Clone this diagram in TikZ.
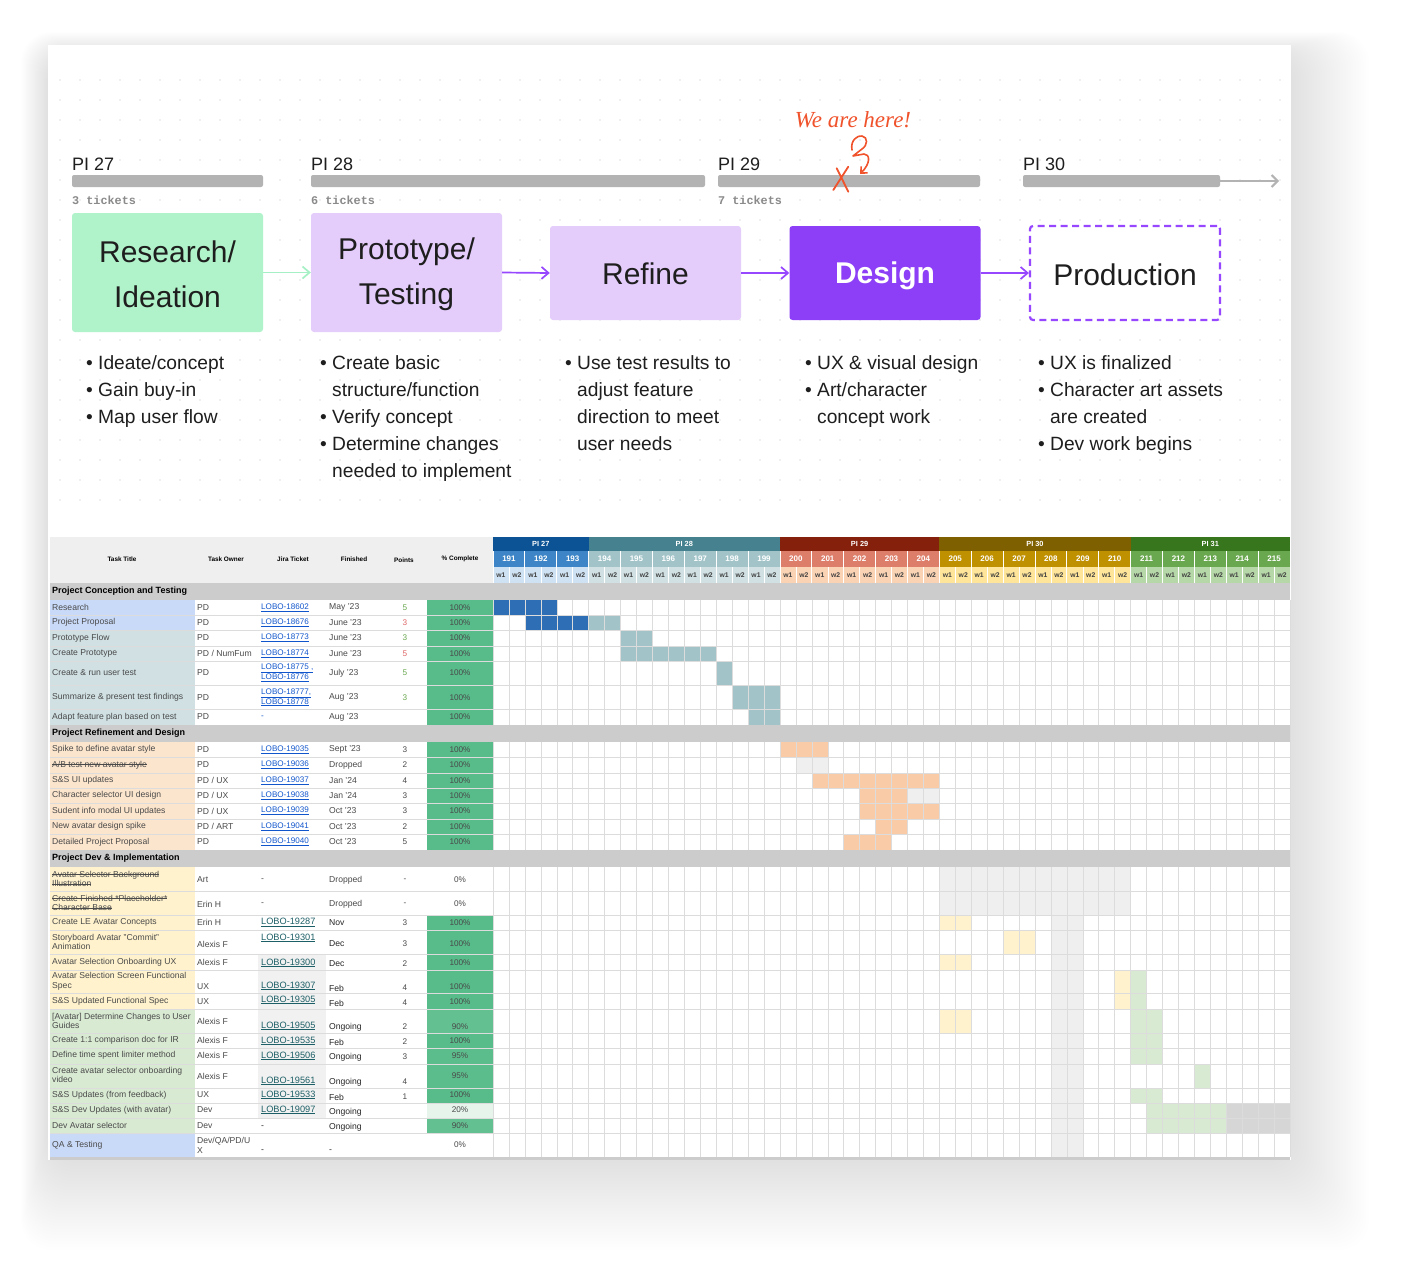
\documentclass[tikz,border=0pt]{standalone}
\usepackage{fontspec}
\setmainfont{Liberation Sans}
\newfontfamily\monofont{Liberation Mono}
\newfontfamily\handfont{Liberation Serif}
\usetikzlibrary{arrows.meta}

\definecolor{dotc}{HTML}{E2E2E2}
\definecolor{barc}{HTML}{B3B3B3}
\definecolor{tixc}{HTML}{8A8A8A}
\definecolor{resc}{HTML}{B0F2C9}
\definecolor{protc}{HTML}{E4CCFB}
\definecolor{desc}{HTML}{8C3FF6}
\definecolor{purp}{HTML}{9747FF}
\definecolor{mint}{HTML}{A6F0C6}
\definecolor{ink}{HTML}{1E1E1E}
\definecolor{hand}{HTML}{F0522B}
\definecolor{hdrg}{HTML}{EFEFEF}
\definecolor{secg}{HTML}{CCCCCC}
\definecolor{gridc}{HTML}{DCDCDC}
\definecolor{txtc}{HTML}{4A4A4A}
\definecolor{linkc}{HTML}{1155CC}
\definecolor{linkd}{HTML}{1D5F66}
\definecolor{ptg}{HTML}{6AA84F}
\definecolor{ptr}{HTML}{E06666}
\definecolor{pctg}{HTML}{57BB8A}
\definecolor{pctn}{HTML}{5CBD8C}
\definecolor{pcte}{HTML}{63C091}
\definecolor{pctl}{HTML}{E6F4EC}
\definecolor{tblue}{HTML}{C9DAF8}
\definecolor{tteal}{HTML}{D0E0E3}
\definecolor{tpeach}{HTML}{FCE5CD}
\definecolor{tyel}{HTML}{FFF2CC}
\definecolor{tgreen}{HTML}{D9EAD3}
\definecolor{gblue}{HTML}{2E6EB5}
\definecolor{gteal}{HTML}{A2C4C9}
\definecolor{gpeach}{HTML}{F9CBA7}
\definecolor{glg}{HTML}{EFEFEF}
\definecolor{gyel}{HTML}{FFF2CC}
\definecolor{ggreen}{HTML}{D9EAD3}
\definecolor{gdg}{HTML}{D6D6D6}
\definecolor{jirag}{HTML}{F1F1F1}
\definecolor{piA}{HTML}{0B5394}
\definecolor{piB}{HTML}{45818E}
\definecolor{piC}{HTML}{85200C}
\definecolor{piD}{HTML}{7F6000}
\definecolor{piE}{HTML}{38761D}
\definecolor{sprA}{HTML}{3D85C6}
\definecolor{sprB}{HTML}{A2C4C9}
\definecolor{sprC}{HTML}{DD7E6B}
\definecolor{sprD}{HTML}{BF9000}
\definecolor{sprE}{HTML}{6AA84F}
\definecolor{wkA}{HTML}{CFE2F3}
\definecolor{wkB}{HTML}{D0E0E3}
\definecolor{wkC}{HTML}{FAD3B4}
\definecolor{wkD}{HTML}{FFE599}
\definecolor{wkE}{HTML}{B6D7A8}

\newcommand\myul[1]{\underline{#1}}
\newcommand\mystrk[1]{\leavevmode\setbox0\hbox{#1}\rlap{\rule[2.5pt]{\wd0}{0.5pt}}\box0}
\newcommand\gb[5]{\fill[#1] ({493+15.94*#2},#4) rectangle ({493+15.94*(#3+1)},#5);}
\newcommand\bulit{\makebox[12pt][l]{•}}
\newcommand\bulcont{\hspace*{12pt}}
\newcommand\trow[7]{%
 \node[tx] (#1t) at (52,#2) {#3};
 \node[tx] (#1o) at (197,#2) {#4};
 \node[lk] (#1j) at (261,#2) {#5};
 \node[tx] (#1f) at (329,#2) {#6};
 \node[cn] (#1p) at (405,#2) {#7};
 \node[cn] (#1c) at (460,#2) {100\%};}

\begin{document}
\begin{tikzpicture}[x=1pt,y=-1pt,
  pil/.style={anchor=base west, inner sep=0, font=\fontsize{18}{20}\selectfont, text=ink},
  barbox/.style={fill=barc, rounded corners=2, inner sep=0, minimum height=12},
  tix/.style={anchor=base west, inner sep=0, font=\monofont\bfseries\fontsize{11.8}{12}\selectfont, text=tixc},
  phase/.style={rounded corners=3, minimum width=191, minimum height=95, inner sep=0},
  phtxt/.style={inner sep=0, align=center, font=\fontsize{30}{45}\selectfont, text=ink},
  flow/.style={-{Straight Barb[length=7,width=12]}, line width=1.7, draw=purp},
  bul/.style={anchor=north west, inner sep=0, align=left, font=\fontsize{19.2}{27}\selectfont, text=ink},
  tx/.style={anchor=west, inner sep=0, align=left, font=\fontsize{8.6}{9.8}\selectfont, text=txtc},
  lk/.style={tx, text=linkc, font=\fontsize{8.1}{9.6}\selectfont},
  lkd/.style={tx, text=linkd, font=\fontsize{9.2}{10}\selectfont},
  fd/.style={tx, text=black!85, font=\fontsize{8.6}{10}\selectfont},
  cn/.style={tx, anchor=center, font=\fontsize{8.2}{9.6}\selectfont},
  hd/.style={anchor=center, inner sep=0, font=\bfseries\fontsize{6.4}{7}\selectfont, text=black},
  sec/.style={anchor=west, inner sep=0, font=\bfseries\fontsize{9}{10}\selectfont, text=black},
  pin/.style={anchor=center, inner sep=0, font=\bfseries\fontsize{7.4}{8}\selectfont, text=white},
  spn/.style={anchor=center, inner sep=0, font=\bfseries\fontsize{8}{9}\selectfont, text=white},
  wkn/.style={anchor=center, inner sep=0, font=\bfseries\fontsize{6.8}{7}\selectfont, text=black!75},
]
\useasboundingbox (0,0) rectangle (1404,1274);
\fill[white] (0,0) rectangle (1404,1274);
% shadow
\foreach \i in {1,...,30}
  \fill[black, opacity=0.0042, rounded corners=30] ({48-0.9*\i},{45-0.7*\i+8}) rectangle ({1291+2.6*\i},{1160+3*\i});
% card
\fill[white] (48,45) rectangle (1291,1160);
% dots
\foreach \x in {60,80,...,1280}
  \foreach \y in {80,100,...,500}
    \fill[dotc] (\x,\y) circle (0.9);

% PI bars and labels
\node[pil] (pl1) at (72,170) {PI 27};
\node[pil] (pl2) at (311,170) {PI 28};
\node[pil] (pl3) at (718,170) {PI 29};
\node[pil] (pl4) at (1023,170) {PI 30};
\node[barbox, minimum width=191] (bar1) at (167.5,181) {};
\node[barbox, minimum width=394] (bar2) at (508,181) {};
\node[barbox, minimum width=262] (bar3) at (849,181) {};
\node[barbox, minimum width=197] (bar4) at (1121.5,181) {};
\coordinate (arrEnd) at (1279,181);
\draw[barc, line width=2, -{Straight Barb[length=6,width=12]}] (bar4.east) -- (arrEnd);
\node[tix] (tk1) at (72,204) {3 tickets};
\node[tix] (tk2) at (311,204) {6 tickets};
\node[tix] (tk3) at (718,204) {7 tickets};

% phase boxes
\node[phase, fill=resc, minimum height=119] (ph1) at (167.5,272.5) {};
\node[phase, fill=protc, minimum height=119] (ph2) at (406.5,272.5) {};
\node[phase, fill=protc, minimum height=94] (ph3) at (645.5,273) {};
\node[phase, fill=desc, minimum height=94] (ph4) at (885,273) {};
\node[phase, fill=white, draw=purp, line width=2.2, dash pattern=on 7 off 4.5, minimum width=190, minimum height=94] (ph5) at (1125,273) {};
\node[phtxt] (ph1x) at ([yshift=-2pt]ph1.center) {Research/\\Ideation};
\node[phtxt] (ph2x) at ([yshift=-2pt]ph2.center) {Prototype/\\Testing};
\node[phtxt] (ph3x) at ([yshift=-1pt]ph3.center) {Refine};
\node[phtxt, text=white, font=\bfseries\fontsize{30}{45}\selectfont] (ph4x) at ([yshift=-3pt]ph4.center) {Design};
\node[phtxt] (ph5x) at ([yshift=-2pt]ph5.center) {Production};
\draw[flow, draw=mint] (ph1.east) -- (ph2.west);
\draw[flow] (ph2.east) -- (ph3.west);
\draw[flow] (ph3.east) -- (ph4.west);
\draw[flow] (ph4.east) -- (ph5.west);

% bullets
\node[bul] (l1) at (86,350) {\strut\bulit Ideate/concept\\\bulit Gain buy-in\\\bulit Map user flow};
\node[bul] (l2) at (320,350) {\strut\bulit Create basic\\\bulcont structure/function\\\bulit Verify concept\\\bulit Determine changes\\\bulcont needed to implement};
\node[bul] (l3) at (565,350) {\strut\bulit Use test results to\\\bulcont adjust feature\\\bulcont direction to meet\\\bulcont user needs};
\node[bul] (l4) at (805,350) {\strut\bulit UX \& visual design\\\bulit Art/character\\\bulcont concept work};
\node[bul] (l5) at (1038,350) {\strut\bulit UX is finalized\\\bulit Character art assets\\\bulcont are created\\\bulit Dev work begins};

% hand annotation
\node[anchor=center, inner sep=0, font=\handfont\itshape\fontsize{23}{25}\selectfont, text=hand] (here) at (853,120) {We are here!};
\draw[hand, line width=1.6, line cap=round, line join=round, -{Straight Barb[length=5,width=9]}]
  (852,150) .. controls (850,140) and (858,135) .. (862,136)
  .. controls (868,137) and (868,145) .. (862,149)
  -- (853,156) -- (864,154)
  .. controls (870,154) and (871,163) .. (860,174);
\draw[hand, line width=1.8, line cap=round] (836.7,168.3) -- (848.3,191.7) (848.3,166.7) -- (833.3,190);

% ================= TABLE =================
% header
\fill[hdrg] (50,537) rectangle (493,583);
\node[hd] (h1) at (122,559) {Task Title};
\node[hd] (h2) at (226,559) {Task Owner};
\node[hd] (h3) at (293,559) {Jira Ticket};
\node[hd] (h4) at (354,559) {Finished};
\node[hd] (h5) at (404,560) {Points};
\node[hd] (h6) at (460,559) {\% Complete};
\foreach \a/\b/\c/\t in {0/6/piA/27,6/18/piB/28,18/28/piC/29,28/40/piD/30,40/50/piE/31}{
  \fill[\c] ({493+15.94*\a},537) rectangle ({493+15.94*\b},551);
  \node[pin] (pi\t) at ({493+15.94*(\a+\b)/2},544) {PI \t};
}
\foreach \a/\b/\sc/\wc in {0/2/sprA/wkA,3/8/sprB/wkB,9/13/sprC/wkC,14/19/sprD/wkD,20/24/sprE/wkE}{
  \foreach \s in {\a,...,\b}{
    \pgfmathtruncatemacro\num{191+\s}
    \fill[\sc] ({493+31.88*\s},551) rectangle ({493+31.88*(\s+1)},567);
    \fill[\wc] ({493+31.88*\s},567) rectangle ({493+31.88*(\s+1)},583);
    \draw[white, line width=0.8] ({493+31.88*\s},551) -- ({493+31.88*\s},583);
    \draw[white, line width=0.5] ({493+31.88*\s+15.94},567) -- ({493+31.88*\s+15.94},583);
    \node[spn] (sp\num) at ({493+31.88*\s+15.94},559) {\num};
    \node[wkn] (wa\num) at ({493+31.88*\s+7.97},575) {w1};
    \node[wkn] (wb\num) at ({493+31.88*\s+23.91},575) {w2};
  }
}

% left column fills
\fill[tblue] (50,600) rectangle (195,630);
\fill[tteal] (50,630) rectangle (195,725);
\fill[tpeach] (50,742) rectangle (195,850);
\fill[tyel] (50,867) rectangle (195,1009);
\fill[tgreen] (50,1009) rectangle (195,1133);
\fill[tblue] (50,1133) rectangle (195,1157);
\fill[jirag] (258,954) rectangle (326,1118);
% percent fills
\fill[pctg] (427,600) rectangle (493,725);
\fill[pctg] (427,742) rectangle (493,850);
\fill[pctg] (427,915) rectangle (493,1009);
\fill[pcte] (427,1009) rectangle (493,1033);
\fill[pctg] (427,1033) rectangle (493,1048);
\fill[pctn] (427,1048) rectangle (493,1088);
\fill[pctg] (427,1088) rectangle (493,1103);
\fill[pctl] (427,1103) rectangle (493,1118);
\fill[pcte] (427,1118) rectangle (493,1133);

% gantt fills
\gb{gblue}{0}{3}{600}{615}
\gb{gblue}{2}{5}{615}{630}
\gb{gteal}{6}{7}{615}{630}
\gb{gteal}{8}{9}{630}{646}
\gb{gteal}{8}{13}{646}{661}
\gb{gteal}{14}{14}{661}{685}
\gb{gteal}{15}{17}{685}{709}
\gb{gteal}{16}{17}{709}{725}
\gb{gpeach}{18}{20}{742}{757}
\gb{glg}{19}{20}{757}{773}
\gb{gpeach}{20}{27}{773}{788}
\gb{gpeach}{23}{25}{788}{803}
\gb{glg}{26}{27}{788}{803}
\gb{gpeach}{23}{27}{803}{819}
\gb{gpeach}{24}{25}{819}{834}
\gb{gpeach}{22}{24}{834}{850}
\gb{glg}{35}{36}{915}{1157}
\gb{glg}{28}{39}{867}{915}
\gb{gyel}{28}{29}{915}{930}
\gb{gyel}{32}{33}{930}{954}
\gb{gyel}{28}{29}{954}{970}
\gb{gyel}{39}{39}{970}{1009}
\gb{ggreen}{40}{40}{970}{1009}
\gb{gyel}{28}{29}{1009}{1033}
\gb{ggreen}{40}{41}{1009}{1064}
\gb{ggreen}{44}{44}{1064}{1088}
\gb{ggreen}{40}{41}{1088}{1103}
\gb{ggreen}{41}{45}{1103}{1133}
\gb{gdg}{46}{49}{1103}{1133}

% grid
\foreach \k in {0,...,50}
  \draw[gridc, line width=0.5] ({493+15.94*\k},600) -- ({493+15.94*\k},1157);
\foreach \y in {615,630,646,661,685,709,757,773,788,803,819,834,891,915,930,954,970,993,1009,1033,1048,1064,1088,1103,1118,1133}
  \draw[gridc, line width=0.7] (50,\y) -- (1290,\y);

% section bars
\fill[secg] (50,583) rectangle (1290,600);
\fill[secg] (50,725) rectangle (1290,742);
\fill[secg] (50,850) rectangle (1290,867);
\fill[secg] (50,1157) rectangle (1290,1160);
\node[sec] (s1) at (52,591.5) {Project Conception and Testing};
\node[sec] (s2) at (52,733.5) {Project Refinement and Design};
\node[sec] (s3) at (52,858.5) {Project Dev \& Implementation};

% section 1 rows
\trow{r1}{607.5}{Research}{PD}{\myul{LOBO-18602}}{May '23}{\textcolor{ptg}{5}}
\trow{r2}{622.5}{Project Proposal}{PD}{\myul{LOBO-18676}}{June '23}{\textcolor{ptr}{3}}
\trow{r3}{638}{Prototype Flow}{PD}{\myul{LOBO-18773}}{June '23}{\textcolor{ptg}{3}}
\trow{r4}{653.5}{Create Prototype}{PD / NumFum}{\myul{LOBO-18774}}{June '23}{\textcolor{ptr}{5}}
\trow{r5}{673}{Create \& run user test}{PD}{\myul{LOBO-18775 ,}\\\myul{LOBO-18776}}{July '23}{\textcolor{ptg}{5}}
\trow{r6}{697.5}{Summarize \& present test findings}{PD}{\myul{LOBO-18777,}\\\myul{LOBO-18778}}{Aug '23}{\textcolor{ptg}{3}}
\trow{r7}{717}{Adapt feature plan based on test}{PD}{-}{Aug '23}{}
% section 2 rows
\trow{r8}{749.5}{Spike to define avatar style}{PD}{\myul{LOBO-19035}}{Sept '23}{3}
\trow{r9}{765}{\mystrk{A/B test new avatar style}}{PD}{\myul{LOBO-19036}}{Dropped}{2}
\trow{r10}{780.5}{S\&S UI updates}{PD / UX}{\myul{LOBO-19037}}{Jan '24}{4}
\trow{r11}{795.5}{Character selector UI design}{PD / UX}{\myul{LOBO-19038}}{Jan '24}{3}
\trow{r12}{811}{Sudent info modal UI updates}{PD / UX}{\myul{LOBO-19039}}{Oct '23}{3}
\trow{r13}{826.5}{New avatar design spike}{PD / ART}{\myul{LOBO-19041}}{Oct '23}{2}
\trow{r14}{842}{Detailed Project Proposal}{PD}{\myul{LOBO-19040}}{Oct '23}{5}

% section 3 rows
\node[tx] (r15t) at (52,879) {\mystrk{Avatar Selector Background}\\\mystrk{Illustration}};
\node[tx] (r15o) at (197,880) {Art};
\node[tx] (r15j) at (261,880) {-};
\node[tx] (r15f) at (329,880) {Dropped};
\node[cn] (r15p) at (405,880) {-};
\node[cn] (r15c) at (460,880) {0\%};

\node[tx] (r16t) at (52,903) {\mystrk{Create Finished *Placeholder*}\\\mystrk{Character Base}};
\node[tx] (r16o) at (197,904) {Erin H};
\node[tx] (r16j) at (261,904) {-};
\node[tx] (r16f) at (329,904) {Dropped};
\node[cn] (r16p) at (405,904) {-};
\node[cn] (r16c) at (460,904) {0\%};

\node[tx] (r17t) at (52,922.5) {Create LE Avatar Concepts};
\node[tx] (r17o) at (197,922.5) {Erin H};
\node[lkd] (r17j) at (261,922.5) {\myul{LOBO-19287}};
\node[fd] (r17f) at (329,923) {Nov};
\node[cn] (r17p) at (405,923) {3};
\node[cn] (r17c) at (460,923) {100\%};

\node[tx] (r18t) at (52,942) {Storyboard Avatar "Commit"\\Animation};
\node[tx] (r18o) at (197,944) {Alexis F};
\node[lkd] (r18j) at (261,938) {\myul{LOBO-19301}};
\node[fd] (r18f) at (329,944) {Dec};
\node[cn] (r18p) at (405,944) {3};
\node[cn] (r18c) at (460,944) {100\%};

\node[tx] (r19t) at (52,962) {Avatar Selection Onboarding UX};
\node[tx] (r19o) at (197,962) {Alexis F};
\node[lkd] (r19j) at (261,963) {\myul{LOBO-19300}};
\node[fd] (r19f) at (329,964) {Dec};
\node[cn] (r19p) at (405,964) {2};
\node[cn] (r19c) at (460,963) {100\%};

\node[tx] (r20t) at (52,981) {Avatar Selection Screen Functional\\Spec};
\node[tx] (r20o) at (197,987) {UX};
\node[lkd] (r20j) at (261,986) {\myul{LOBO-19307}};
\node[fd] (r20f) at (329,988) {Feb};
\node[cn] (r20p) at (405,988) {4};
\node[cn] (r20c) at (460,987) {100\%};

\node[tx] (r21t) at (52,1001) {S\&S Updated Functional Spec};
\node[tx] (r21o) at (197,1002) {UX};
\node[lkd] (r21j) at (261,1000) {\myul{LOBO-19305}};
\node[fd] (r21f) at (329,1003) {Feb};
\node[cn] (r21p) at (405,1003) {4};
\node[cn] (r21c) at (460,1002) {100\%};

\node[tx] (r22t) at (52,1021) {[Avatar] Determine Changes to User\\Guides};
\node[tx] (r22o) at (197,1021) {Alexis F};
\node[lkd] (r22j) at (261,1026) {\myul{LOBO-19505}};
\node[fd] (r22f) at (329,1027) {Ongoing};
\node[cn] (r22p) at (405,1027) {2};
\node[cn] (r22c) at (460,1027) {90\%};

\node[tx] (r23t) at (52,1040.5) {Create 1:1 comparison doc for IR};
\node[tx] (r23o) at (197,1040.5) {Alexis F};
\node[lkd] (r23j) at (261,1041) {\myul{LOBO-19535}};
\node[fd] (r23f) at (329,1042) {Feb};
\node[cn] (r23p) at (405,1042) {2};
\node[cn] (r23c) at (460,1041) {100\%};

\node[tx] (r24t) at (52,1055.5) {Define time spent limiter method};
\node[tx] (r24o) at (197,1055.5) {Alexis F};
\node[lkd] (r24j) at (261,1056) {\myul{LOBO-19506}};
\node[fd] (r24f) at (329,1057) {Ongoing};
\node[cn] (r24p) at (405,1057) {3};
\node[cn] (r24c) at (460,1056) {95\%};

\node[tx] (r25t) at (52,1075) {Create avatar selector onboarding\\video};
\node[tx] (r25o) at (197,1076) {Alexis F};
\node[lkd] (r25j) at (261,1081) {\myul{LOBO-19561}};
\node[fd] (r25f) at (329,1082) {Ongoing};
\node[cn] (r25p) at (405,1082) {4};
\node[cn] (r25c) at (460,1076) {95\%};

\node[tx] (r26t) at (52,1095) {S\&S Updates (from feedback)};
\node[tx] (r26o) at (197,1095) {UX};
\node[lkd] (r26j) at (261,1095) {\myul{LOBO-19533}};
\node[fd] (r26f) at (329,1097) {Feb};
\node[cn] (r26p) at (405,1097) {1};
\node[cn] (r26c) at (460,1095) {100\%};

\node[tx] (r27t) at (52,1110.5) {S\&S Dev Updates (with avatar)};
\node[tx] (r27o) at (197,1110) {Dev};
\node[lkd] (r27j) at (261,1110) {\myul{LOBO-19097}};
\node[fd] (r27f) at (329,1112) {Ongoing};
\node[cn] (r27c) at (460,1110) {20\%};

\node[tx] (r28t) at (52,1125.5) {Dev Avatar selector};
\node[tx] (r28o) at (197,1126) {Dev};
\node[fd] (r28j) at (261,1127) {-};
\node[fd] (r28f) at (329,1127) {Ongoing};
\node[cn] (r28c) at (460,1126) {90\%};

\node[tx] (r29t) at (52,1145.5) {QA \& Testing};
\node[tx] (r29o) at (197,1145) {Dev/QA/PD/U\\X};
\node[fd] (r29j) at (261,1151) {-};
\node[fd] (r29f) at (329,1151) {-};
\node[cn] (r29c) at (460,1145) {0\%};
\end{tikzpicture}
\end{document}
